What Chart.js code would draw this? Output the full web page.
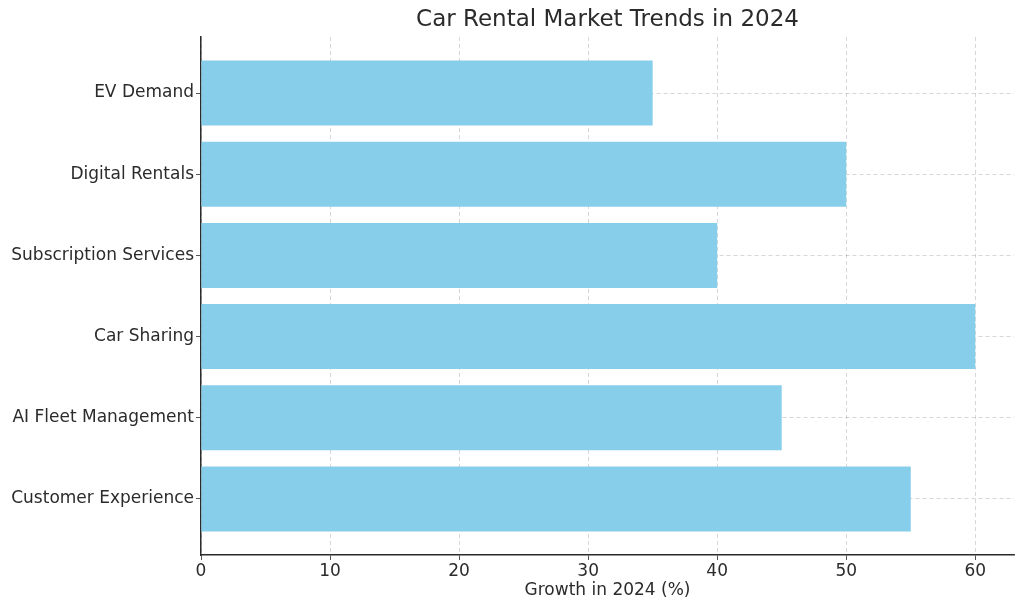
<!DOCTYPE html>
<html>
<head>
<meta charset="utf-8">
<script src="https://cdn.jsdelivr.net/npm/chart.js@4"></script>
<style>
  body { margin: 0; background: #fff; }
</style>
</head>
<body>
<canvas id="trends" width="1024" height="611"></canvas>
<script>
// top to bottom, as shown
const categories = ["EV Demand", "Digital Rentals", "Subscription Services", "Car Sharing", "AI Fleet Management", "Customer Experience"];
const growth = [35, 50, 40, 60, 45, 55];
const xTicks = [0, 10, 20, 30, 40, 50, 60];

const textColor = "#2b2b2b";
const gridColor = "rgba(0,0,0,0.2)";

const ctx = document.getElementById("trends").getContext("2d");
new Chart(ctx, {
    type: "bar",
    data: {
        datasets: [{
            data: categories.map((c, i) => ({ x: growth[i], y: i })),
            backgroundColor: "#87CEEB",
            borderWidth: 0,
            categoryPercentage: 1,
            barPercentage: 0.8,
        }],
    },
    options: {
        indexAxis: "y",
        responsive: false,
        animation: false,
        layout: { padding: { left: 0, right: 10, top: 0, bottom: 0 } },
        plugins: {
            legend: { display: false },
            tooltip: { enabled: false },
            title: {
                display: true,
                text: "Car Rental Market Trends in 2024",
                color: textColor,
                fullSize: false,
                font: { family: "DejaVu Sans", size: 23, weight: "normal" },
                padding: { top: 6, bottom: 3.4 },
            },
        },
        scales: {
            x: {
                type: "linear",
                min: 0,
                max: 63,
                z: 1,
                afterBuildTicks: (s) => { s.ticks = xTicks.map((v) => ({ value: v })); },
                afterFit: (s) => { s.height = 56; },
                ticks: { color: textColor, font: { family: "DejaVu Sans", size: 17 }, padding: 1 },
                grid: { color: gridColor, lineWidth: 0.8, tickLength: 5, tickColor: textColor, tickBorderDash: [] },
                border: { color: textColor, width: 1.5, dash: [4, 3] },
                title: {
                    display: true,
                    text: "Growth in 2024 (%)",
                    color: textColor,
                    font: { family: "DejaVu Sans", size: 17 },
                    padding: { top: 0, bottom: 10 },
                },
            },
            y: {
                type: "linear",
                reverse: true,
                offset: false,
                min: -0.69,
                max: 5.69,
                z: 1,
                afterBuildTicks: (s) => { s.ticks = categories.map((c, i) => ({ value: i })); },
                afterFit: (s) => { s.width = 201; },
                ticks: {
                    color: textColor,
                    font: { family: "DejaVu Sans", size: 17 },
                    padding: 2,
                    callback: (v) => categories[v],
                },
                grid: { offset: false, color: gridColor, lineWidth: 0.8, tickLength: 5, tickColor: textColor, tickBorderDash: [] },
                border: { color: textColor, width: 1.5, dash: [4, 3] },
            },
        },
    },
});
</script>
</body>
</html>
